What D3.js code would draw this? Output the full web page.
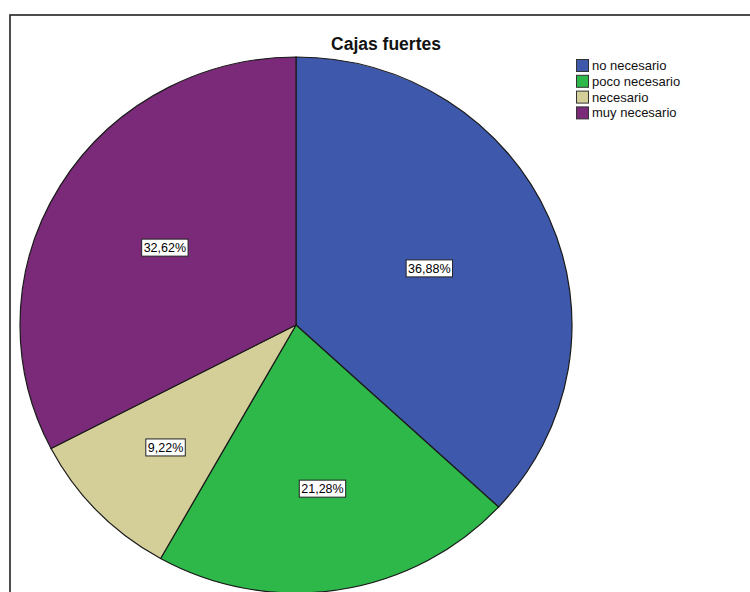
<!DOCTYPE html>
<html><head><meta charset="utf-8">
<script src="https://cdn.jsdelivr.net/npm/d3@7"></script>
<style>body{margin:0;background:#fff}svg{display:block}</style>
</head><body>
<svg id="c" width="750" height="592"></svg>
<script>
const categories = ["no necesario", "poco necesario", "necesario", "muy necesario"];
const values = [36.88, 21.28, 9.22, 32.62];
const colors = ["#3E58AC", "#2EB84A", "#D4CE99", "#7B2A7A"];
const title = "Cajas fuertes";

const svg = d3.select("#c");
const W = 750, H = 592;
const font = "Arial, 'Liberation Sans', sans-serif";

// frame
svg.append("rect").attr("x", 10).attr("y", 15).attr("width", 760).attr("height", 600)
  .attr("fill", "none").attr("stroke", "#222").attr("stroke-width", 1.6);

svg.append("text").attr("x", 386).attr("y", 50).attr("text-anchor", "middle")
  .attr("font-family", font).attr("font-weight", "bold").attr("font-size", 17.5)
  .attr("fill", "#111").text(title);

const cx = 296, cy = 325, rx = 276, ry = 268;
const R = rx;
const pie = d3.pie().sort(null).value(d => d)(values);
const arc = d3.arc().innerRadius(0).outerRadius(R);
const g = svg.append("g").attr("transform", `translate(${cx},${cy}) scale(1,${ry/rx})`);
g.selectAll("path").data(pie).join("path")
  .attr("d", arc).attr("fill", (d, i) => colors[i])
  .attr("stroke", "#1a1a1a").attr("stroke-width", 1.2)
  .attr("vector-effect", "non-scaling-stroke");

const fmt = v => v.toFixed(2).replace(".", ",") + "%";
pie.forEach((d, i) => {
  const th = d.endAngle - d.startAngle;
  const mid = (d.startAngle + d.endAngle) / 2;
  const dist = 2 * R * Math.sin(th / 2) / (3 * th / 2);
  const x = cx + dist * Math.sin(mid);
  const y = cy - dist * Math.cos(mid) * ry / rx;
  const lg = svg.append("g").attr("transform", `translate(${x},${y})`);
  const t = lg.append("text").attr("text-anchor", "middle").attr("dy", "0.36em")
    .attr("font-family", font).attr("font-size", 12.5).attr("fill", "#000").text(fmt(values[i]));
  const bb = t.node().getBBox();
  lg.insert("rect", "text").attr("x", bb.x - 2).attr("y", -8.5).attr("width", bb.width + 4).attr("height", 17)
    .attr("fill", "#fff").attr("stroke", "#222").attr("stroke-width", 1);
});

const leg = svg.append("g").attr("transform", "translate(576,59)");
categories.forEach((c, i) => {
  const row = leg.append("g").attr("transform", `translate(0,${i * 15.8})`);
  row.append("rect").attr("x", 0.5).attr("y", 0.5).attr("width", 12).attr("height", 12)
    .attr("fill", colors[i]).attr("stroke", "#333").attr("stroke-width", 1);
  row.append("text").attr("x", 16).attr("y", 6.5).attr("dy", "0.35em")
    .attr("font-family", font).attr("font-size", 13).attr("fill", "#111").text(c);
});
</script>
</body></html>
